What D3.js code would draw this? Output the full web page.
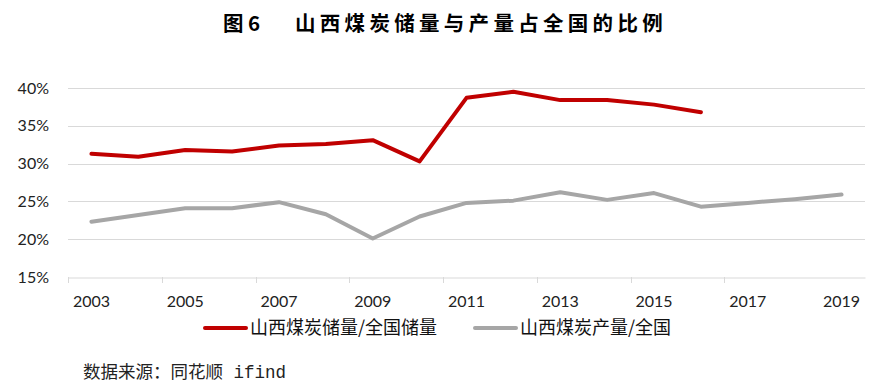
<!DOCTYPE html>
<html>
  <head>
    <meta charset="utf-8">
    <title>山西煤炭储量与产量占全国的比例</title>
    <style>
      body { margin: 0; background: #fff; }
      text { font-family: "Noto Sans CJK SC", "Noto Sans", sans-serif; }
    </style>
  </head>
  <body>
    <script src="https://d3js.org/d3.v7.min.js"></script>
    <svg id="chart" width="874" height="389"></svg>
    <script>

      // Data
      var years = ["2003", "2004", "2005", "2006", "2007", "2008", "2009", "2010", "2011",
                   "2012", "2013", "2014", "2015", "2016", "2017", "2018", "2019"];
      var reserveShare = [31.3, 30.9, 31.8, 31.6, 32.4, 32.6, 33.1, 30.3, 38.7,
                          39.5, 38.4, 38.4, 37.8, 36.8];
      var outputShare = [22.3, 23.2, 24.1, 24.1, 24.9, 23.3, 20.1, 23.0, 24.8,
                         25.1, 26.2, 25.2, 26.1, 24.3, 24.8, 25.3, 25.9];
      var yTicks = [15, 20, 25, 30, 35, 40];
      var seriesNames = ["山西煤炭储量/全国储量", "山西煤炭产量/全国"];
      var colors = ["#C00000", "#A6A6A6"];

      var svg = d3.select("#chart");
      var plotLeft = 68, plotRight = 865, plotTop = 88, plotBottom = 277;
      var axisFont = "Lato, 'Open Sans', sans-serif";

      var x = d3.scaleBand().domain(years).range([plotLeft, plotRight]);
      var y = d3.scaleLinear().domain([15, 40]).range([plotBottom, plotTop]);

      // Title
      var title = svg.append("text")
        .attr("y", 31)
        .style("font-size", "20.5px").attr("font-weight", "bold")
        .attr("fill", "#000");
      title.append("tspan").attr("x", 223).text("图");
      title.append("tspan").attr("x", 248).text("6");
      title.append("tspan").attr("x", 295)
        .style("letter-spacing", "4.3px")
        .text("山西煤炭储量与产量占全国的比例");

      // Gridlines
      svg.append("g")
        .selectAll("line")
        .data(yTicks.slice(1))
        .enter()
        .append("line")
          .attr("x1", plotLeft).attr("x2", plotRight)
          .attr("y1", function (d) { return Math.round(y(d)) + 0.5; })
          .attr("y2", function (d) { return Math.round(y(d)) + 0.5; })
          .attr("stroke", "#D9D9D9").attr("stroke-width", 1);

      // Y axis labels
      var yAxis = svg.append("g")
        .attr("transform", "translate(" + plotLeft + ",0)")
        .call(d3.axisLeft(y).tickValues(yTicks).tickSize(0).tickPadding(19)
          .tickFormat(function (d) { return d + "%"; }));
      yAxis.select(".domain").remove();
      yAxis.selectAll("text")
        .style("font-size", "16px").attr("fill", "#222")
        .style("font-family", axisFont);

      // X axis
      var xAxis = svg.append("g")
        .attr("transform", "translate(0," + (plotBottom + 0.5) + ")")
        .call(d3.axisBottom(x).tickSize(0).tickPadding(18)
          .tickFormat(function (d, i) { return i % 2 === 0 ? d : ""; }));
      xAxis.select(".domain").attr("stroke", "#D9D9D9");
      xAxis.selectAll("text")
        .style("font-size", "16px").attr("fill", "#222")
        .style("font-family", axisFont);

      // tick marks every two categories
      svg.append("g")
        .selectAll("line")
        .data(years.filter(function (d, i) { return i % 2 === 0 && i < years.length - 1; }))
        .enter()
        .append("line")
          .attr("x1", function (d) { return Math.round(x(d)) + 0.5; })
          .attr("x2", function (d) { return Math.round(x(d)) + 0.5; })
          .attr("y1", plotBottom).attr("y2", plotBottom + 6)
          .attr("stroke", "#D9D9D9");

      // Lines
      var line = d3.line()
        .x(function (d, i) { return x(years[i]) + x.bandwidth() / 2; })
        .y(function (d) { return y(d); });

      [reserveShare, outputShare].forEach(function (s, k) {
        svg.append("path")
          .datum(s)
          .attr("d", line)
          .attr("fill", "none")
          .attr("stroke", colors[k])
          .attr("stroke-width", 4)
          .attr("stroke-linecap", "round")
          .attr("stroke-linejoin", "round");
      });

      // Legend
      var legendX = [205, 475];
      var legend = svg.append("g")
        .selectAll("g")
        .data(seriesNames)
        .enter()
        .append("g")
          .attr("transform", function (d, i) { return "translate(" + legendX[i] + ",328)"; });
      legend.append("line")
        .attr("x1", 0).attr("x2", 41)
        .attr("stroke", function (d, i) { return colors[i]; })
        .attr("stroke-width", 4).attr("stroke-linecap", "round");
      legend.append("text")
        .attr("x", 45).attr("y", 6)
        .style("font-size", "18px").attr("fill", "#111")
        .text(function (d) { return d; });

      // Source
      var source = svg.append("text")
        .attr("x", 83).attr("y", 378)
        .style("font-size", "17.5px").attr("fill", "#222");
      source.append("tspan").text("数据来源：同花顺");
      source.append("tspan")
        .style("font-family", "'Liberation Mono', 'DejaVu Sans Mono', monospace")
        .text(" ifind");

    </script>
  </body>
</html>
